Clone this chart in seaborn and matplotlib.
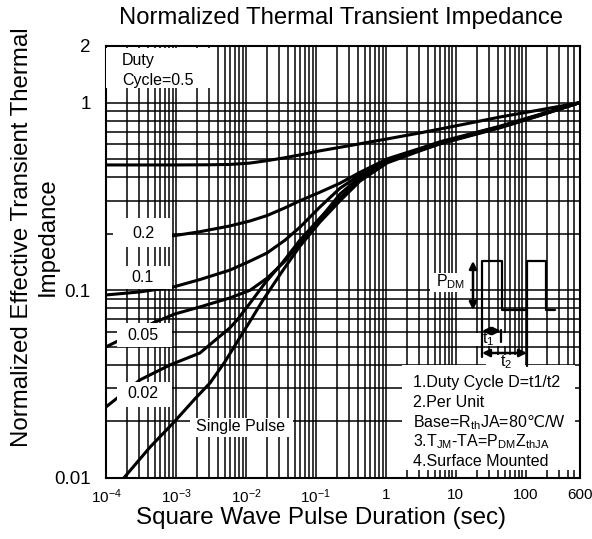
import matplotlib
matplotlib.use("Agg")
import matplotlib.pyplot as plt
import matplotlib.ticker as mticker
from matplotlib.patches import Rectangle
import seaborn as sns
import pandas as pd

# pulse duration (s) and normalized Zth for each duty cycle
t_d50 = [1e-4, 1e-3, 3.1e-3, 6e-3, 0.0115, 0.02, 0.035, 0.0596, 0.115, 0.31, 1.05, 3.1, 8.3, 43, 162, 600]
z_d50 = [0.465, 0.465, 0.466, 0.468, 0.476, 0.490, 0.507, 0.526, 0.553, 0.590, 0.640, 0.689, 0.740, 0.837, 0.914, 1.0]

t_d20 = [9.1e-4, 2.2e-3, 5.9e-3, 0.0115, 0.0201, 0.0364, 0.0596, 0.115, 0.223, 0.43, 1.05, 3.1, 6.0, 43, 162, 600]
z_d20 = [0.195, 0.205, 0.220, 0.234, 0.250, 0.275, 0.300, 0.333, 0.372, 0.425, 0.501, 0.570, 0.618, 0.748, 0.866, 1.0]

t_d10 = [1e-4, 3.06e-4, 9.1e-4, 2.2e-3, 5.9e-3, 0.0115, 0.0201, 0.0364, 0.0596, 0.115, 0.223, 0.43, 1.05, 3.1, 6.0, 43, 162, 600]
z_d10 = [0.0944, 0.098, 0.104, 0.114, 0.128, 0.143, 0.158, 0.185, 0.217, 0.278, 0.350, 0.412, 0.494, 0.565, 0.614, 0.744, 0.862, 1.0]

t_d05 = [1e-4, 2.2e-4, 4.7e-4, 9.7e-4, 2.2e-3, 5.9e-3, 0.0115, 0.0201, 0.0364, 0.0596, 0.115, 0.223, 0.43, 1.05, 3.1, 6.0, 43, 162, 600]
z_d05 = [0.0499, 0.0578, 0.067, 0.0748, 0.0815, 0.091, 0.100, 0.116, 0.143, 0.179, 0.241, 0.326, 0.402, 0.488, 0.561, 0.610, 0.740, 0.859, 1.0]

t_d02 = [1e-4, 3.06e-4, 8.2e-4, 2.2e-3, 5.9e-3, 7.5e-3, 0.0115, 0.0188, 0.034, 0.0596, 0.115, 0.223, 0.43, 1.05, 3.1, 6.0, 43, 162, 600]
z_d02 = [0.0239, 0.0333, 0.040, 0.0463, 0.063, 0.0695, 0.0855, 0.1093, 0.1416, 0.1853, 0.2427, 0.310, 0.392, 0.482, 0.557, 0.606, 0.737, 0.856, 1.0]

t_single = [1.6e-4, 4.26e-4, 9.1e-4, 1.87e-3, 3.08e-3, 5.0e-3, 8.3e-3, 0.0115, 0.0176, 0.034, 0.0596, 0.115, 0.223, 0.43, 1.05, 3.1, 6.0, 43, 162, 600]
z_single = [0.0095, 0.0146, 0.0196, 0.0264, 0.0321, 0.0415, 0.0564, 0.0685, 0.0887, 0.128, 0.172, 0.231, 0.300, 0.382, 0.477, 0.553, 0.602, 0.733, 0.853, 1.0]

curve_names = ["0.5", "0.2", "0.1", "0.05", "0.02", "single"]
curve_t = [t_d50, t_d20, t_d10, t_d05, t_d02, t_single]
curve_z = [z_d50, z_d20, z_d10, z_d05, z_d02, z_single]

x_ticks = [1e-4, 1e-3, 1e-2, 1e-1, 1, 10, 100, 600]
x_ticklabels = ["$10^{-4}$", "$10^{-3}$", "$10^{-2}$", "$10^{-1}$", "1", "10", "100", "600"]
y_ticks = [0.01, 0.1, 1, 2]
y_ticklabels = ["0.01", "0.1", "1", "2"]

rows = []
for name, ts, zs in zip(curve_names, curve_t, curve_z):
    for t, z in zip(ts, zs):
        rows.append({"curve": name, "t": t, "z": z})
df = pd.DataFrame(rows)

sns.set_style("white")
plt.rcParams["font.family"] = ["Liberation Sans", "DejaVu Sans"]
plt.rcParams["mathtext.default"] = "regular"
plt.rcParams["mathtext.fontset"] = "custom"
plt.rcParams["mathtext.rm"] = "DejaVu Sans"
plt.rcParams["text.color"] = "black"
plt.rcParams["xtick.color"] = "black"
plt.rcParams["ytick.color"] = "black"
plt.rcParams["axes.labelcolor"] = "black"

fig = plt.figure(figsize=(5.92, 5.39), dpi=100)
ax = fig.add_axes([106 / 592, 61 / 539, 474 / 592, 432 / 539])
ax.set(xscale="log", yscale="log")

sns.lineplot(data=df, x="t", y="z", hue="curve", hue_order=curve_names,
             palette=["black"] * len(curve_names), estimator=None, sort=False,
             linewidth=2.2, legend=False, ax=ax, zorder=2)

ax.set_xlim(1e-4, 600)
ax.set_ylim(0.01, 2)
ax.xaxis.set_major_locator(mticker.FixedLocator(x_ticks))
ax.xaxis.set_major_formatter(mticker.FixedFormatter(x_ticklabels))
ax.xaxis.set_minor_locator(mticker.LogLocator(base=10, subs=range(2, 10), numticks=30))
ax.xaxis.set_minor_formatter(mticker.NullFormatter())
ax.yaxis.set_major_locator(mticker.FixedLocator(y_ticks))
ax.yaxis.set_major_formatter(mticker.FixedFormatter(y_ticklabels))
ax.yaxis.set_minor_locator(mticker.LogLocator(base=10, subs=range(2, 10), numticks=30))
ax.yaxis.set_minor_formatter(mticker.NullFormatter())
ax.grid(True, which="both", color="black", linewidth=1.1)
ax.tick_params(which="both", length=0, colors="black")
ax.tick_params(axis="x", pad=7, labelsize=11)
ax.tick_params(axis="y", pad=11, labelsize=13.5)
for sp in ax.spines.values():
    sp.set_color("black")
    sp.set_linewidth(1.5)
ax.set_xlabel("")
ax.set_ylabel("")

fig.text(341 / 592, 1 - 18 / 539, "Normalized Thermal Transient Impedance",
         ha="center", va="center", fontsize=17.2)
fig.text(321 / 592, 1 - 518 / 539, "Square Wave Pulse Duration (sec)",
         ha="center", va="center", fontsize=17.4)
fig.text(35 / 592, 1 - 237 / 539, "Normalized Effective Transient Thermal\nImpedance",
         rotation=90, ha="center", va="center", fontsize=17.3, linespacing=1.2,
         multialignment="center")


# pixel positions of the annotations inside the plot frame
def fx(px):
    return (px - 106) / 474


def fy(py):
    return (478 - py) / 432


def white_box(x0, y0, x1, y1):
    ax.add_patch(Rectangle((fx(x0), fy(y1)), fx(x1) - fx(x0), fy(y0) - fy(y1),
                           transform=ax.transAxes, facecolor="white",
                           edgecolor="none", zorder=3))


def label(px, py, s, ha="center", size=11.5):
    ax.text(fx(px), fy(py), s, transform=ax.transAxes, ha=ha, va="center",
            fontsize=size, zorder=4)


white_box(106, 48, 210, 88)
label(122, 60, "Duty", ha="left")
label(122, 80, "Cycle=0.5", ha="left")

white_box(113, 218, 172, 247)
label(143, 233, "0.2")
white_box(113, 266, 172, 289)
label(142, 278, "0.1")
white_box(117, 323, 172, 347)
label(143, 335, "0.05")
white_box(117, 382, 172, 407)
label(143, 394, "0.02")
white_box(190, 418, 293, 437)
label(241, 427, "Single Pulse")

# notes box
white_box(402, 365, 575, 470)
notes = ["1.Duty Cycle D=t1/t2", "2.Per Unit", "Base=R$_{th}$JA=80$\\mathrm{℃}$/W",
         "3.T$_{JM}$-TA=P$_{DM}$Z$_{thJA}$", "4.Surface Mounted"]
for i, s in enumerate(notes):
    label(413, 383 + i * 19.7, s, ha="left")

# pulse train sketch
wave_x = [482, 482, 502, 502, 527, 527, 546, 546, 555]
wave_y = [310, 261, 261, 310, 310, 261, 261, 310, 310]
ax.plot([fx(v) for v in wave_x], [fy(v) for v in wave_y], color="black",
        lw=1.6, transform=ax.transAxes, zorder=5, clip_on=False)
ax.plot([fx(482), fx(482)], [fy(310), fy(357)], color="black", lw=1.6,
        transform=ax.transAxes, zorder=5)
ax.plot([fx(527), fx(527)], [fy(310), fy(366)], color="black", lw=1.6,
        transform=ax.transAxes, zorder=5)
ax.plot([fx(501), fx(501)], [fy(330), fy(342)], color="black", lw=1.6,
        transform=ax.transAxes, zorder=5)

white_box(430, 273, 470, 292)
label(451, 282, "P$_{DM}$")
white_box(472, 333, 507, 346)
label(488, 339, "t$_1$")
white_box(486, 355, 525, 371)
label(506, 362, "t$_2$")

arrow = dict(arrowstyle="<|-|>", color="black", lw=1.8, mutation_scale=11,
             shrinkA=0, shrinkB=0)
ax.annotate("", xy=(fx(473), fy(261)), xytext=(fx(473), fy(310)),
            xycoords="axes fraction", arrowprops=arrow, zorder=5)
ax.annotate("", xy=(fx(482), fy(331)), xytext=(fx(501), fy(331)),
            xycoords="axes fraction", arrowprops=arrow, zorder=5)
ax.annotate("", xy=(fx(482), fy(353)), xytext=(fx(527), fy(353)),
            xycoords="axes fraction", arrowprops=arrow, zorder=5)

fig.savefig("out.png", dpi=100)
